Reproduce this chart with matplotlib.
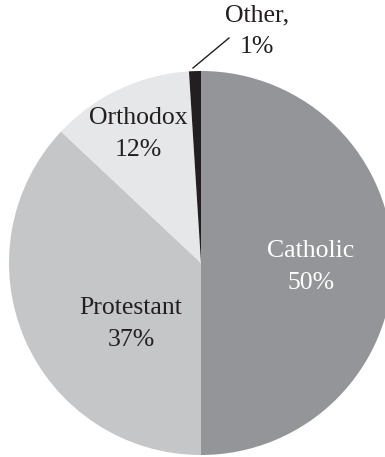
import matplotlib.pyplot as plt

# religious affiliation shares
groups = ['Catholic', 'Protestant', 'Orthodox', 'Other']
shares = [50, 37, 12, 1]
colors = ['#939598', '#c5c6c8', '#e6e7e8', '#231f20']
label_colors = ['white', '#231f20', '#231f20', '#231f20']

plt.rcParams['font.family'] = ['Liberation Serif', 'DejaVu Serif']

fig = plt.figure(figsize=(3.85, 4.57), dpi=100)
ax = fig.add_axes([0, 0, 1, 1])

ax.pie(shares, colors=colors, startangle=90, counterclock=False,
       center=(201, 194), radius=192, frame=True,
       wedgeprops=dict(linewidth=0))
ax.set_xlim(0, 385)
ax.set_ylim(0, 457)
ax.set_aspect('equal')
ax.axis('off')

# label positions (pixel units, y up)
label_pos = [(311, 190), (131, 133), (138, 323), (257, 426)]
for name, val, pos, tc in zip(groups, shares, label_pos, label_colors):
    txt = f'{name},\n{val}%' if name == 'Other' else f'{name}\n{val}%'
    ax.text(pos[0], pos[1], txt, ha='center', va='center', fontsize=18.5,
            color=tc, linespacing=1.55)

# leader line for the small slice
ax.plot([193, 229], [457 - 68, 457 - 38], color='#231f20', linewidth=1)

plt.savefig('out.png', dpi=100)
